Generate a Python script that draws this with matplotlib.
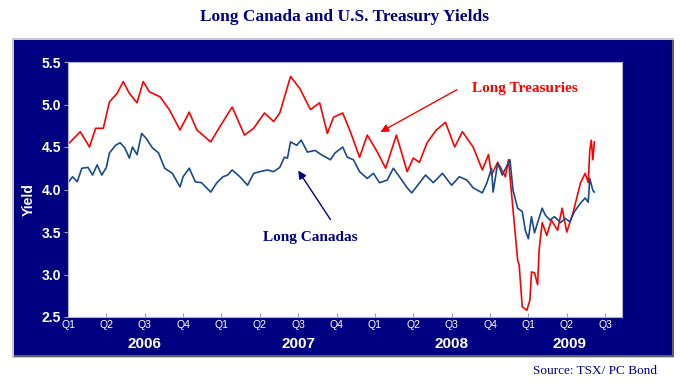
import matplotlib.pyplot as plt
from matplotlib.patches import Rectangle
import numpy as np

# Long Treasuries (fractional year, yield %)
ust_t = [2006.01, 2006.08, 2006.14, 2006.18, 2006.23, 2006.27, 2006.32, 2006.36, 2006.40, 2006.45,
         2006.49, 2006.53, 2006.60, 2006.66, 2006.73, 2006.79, 2006.84, 2006.93, 2006.99, 2007.07,
         2007.15, 2007.21, 2007.28, 2007.34, 2007.38, 2007.45, 2007.51, 2007.58, 2007.64, 2007.69,
         2007.73, 2007.79, 2007.84, 2007.90, 2007.95, 2008.01, 2008.07, 2008.14, 2008.21, 2008.25,
         2008.29, 2008.34, 2008.40, 2008.46, 2008.52, 2008.57, 2008.64, 2008.70, 2008.74, 2008.76,
         2008.80, 2008.85, 2008.87, 2008.90, 2008.93, 2008.94, 2008.96, 2008.99, 2009.01, 2009.02,
         2009.04, 2009.06, 2009.07, 2009.09, 2009.12, 2009.15, 2009.19, 2009.22, 2009.25, 2009.29,
         2009.34, 2009.37, 2009.39, 2009.40, 2009.41, 2009.42, 2009.43]
ust_y = [4.55, 4.68, 4.50, 4.72, 4.72, 5.03, 5.13, 5.27, 5.13, 5.02,
         5.27, 5.15, 5.09, 4.94, 4.70, 4.91, 4.70, 4.56, 4.74, 4.97,
         4.64, 4.72, 4.90, 4.80, 4.90, 5.33, 5.19, 4.94, 5.02, 4.66,
         4.85, 4.90, 4.68, 4.38, 4.64, 4.46, 4.25, 4.64, 4.21, 4.37,
         4.32, 4.55, 4.70, 4.79, 4.50, 4.68, 4.50, 4.23, 4.41, 4.17,
         4.32, 4.15, 4.35, 3.76, 3.17, 3.11, 2.62, 2.58, 2.70, 3.03,
         3.02, 2.88, 3.29, 3.61, 3.46, 3.64, 3.52, 3.78, 3.50, 3.72,
         4.08, 4.19, 4.08, 4.46, 4.58, 4.35, 4.56]

# Long Canadas
can_t = [2006.00, 2006.03, 2006.06, 2006.09, 2006.13, 2006.16, 2006.19, 2006.22, 2006.25, 2006.27,
         2006.31, 2006.34, 2006.37, 2006.40, 2006.42, 2006.45, 2006.48, 2006.51, 2006.55, 2006.59,
         2006.63, 2006.68, 2006.73, 2006.75, 2006.79, 2006.83, 2006.87, 2006.93, 2006.97, 2007.01,
         2007.04, 2007.07, 2007.12, 2007.17, 2007.21, 2007.25, 2007.30, 2007.34, 2007.38, 2007.41,
         2007.43, 2007.45, 2007.49, 2007.52, 2007.56, 2007.61, 2007.65, 2007.71, 2007.74, 2007.79,
         2007.82, 2007.86, 2007.90, 2007.95, 2007.99, 2008.03, 2008.08, 2008.12, 2008.16, 2008.21,
         2008.24, 2008.27, 2008.33, 2008.38, 2008.44, 2008.50, 2008.55, 2008.60, 2008.64, 2008.70,
         2008.73, 2008.76, 2008.77, 2008.80, 2008.83, 2008.88, 2008.90, 2008.93, 2008.96, 2008.98,
         2009.00, 2009.02, 2009.04, 2009.06, 2009.09, 2009.11, 2009.14, 2009.17, 2009.21, 2009.24,
         2009.27, 2009.30, 2009.34, 2009.37, 2009.39, 2009.40, 2009.42, 2009.43]
can_y = [4.08, 4.15, 4.09, 4.25, 4.26, 4.17, 4.29, 4.17, 4.26, 4.43,
         4.52, 4.55, 4.49, 4.37, 4.50, 4.41, 4.66, 4.60, 4.49, 4.43,
         4.25, 4.19, 4.03, 4.15, 4.25, 4.09, 4.08, 3.97, 4.08, 4.15,
         4.17, 4.23, 4.15, 4.05, 4.19, 4.21, 4.23, 4.21, 4.26, 4.38,
         4.37, 4.56, 4.52, 4.58, 4.44, 4.46, 4.41, 4.35, 4.43, 4.50,
         4.38, 4.35, 4.21, 4.13, 4.19, 4.08, 4.11, 4.25, 4.15, 4.02,
         3.96, 4.03, 4.17, 4.08, 4.19, 4.05, 4.15, 4.11, 4.02, 3.96,
         4.08, 4.25, 3.97, 4.31, 4.17, 4.35, 3.99, 3.78, 3.74, 3.52,
         3.42, 3.68, 3.49, 3.61, 3.78, 3.70, 3.64, 3.68, 3.61, 3.66,
         3.62, 3.74, 3.84, 3.90, 3.85, 4.13, 3.99, 3.97]

quarter_labels = ['Q1', 'Q2', 'Q3', 'Q4'] * 3 + ['Q1', 'Q2', 'Q3']
years = ['2006', '2007', '2008', '2009']
year_pos = [2006.5, 2007.5, 2008.5, 2009.27]

navy = '#000080'

fig = plt.figure(figsize=(6.91, 3.84), dpi=100)
fig.patch.set_facecolor('white')

# navy panel behind the chart, with grey frame
fig.patches.append(Rectangle((12/691, 1 - 358/384), 662/691, 320/384, transform=fig.transFigure,
                             facecolor='#c8c8c8', edgecolor='none', zorder=-3))
fig.patches.append(Rectangle((14/691, 1 - 357/384), 660/691, 317/384, transform=fig.transFigure,
                             facecolor='#606060', edgecolor='none', zorder=-2))
fig.patches.append(Rectangle((14/691, 1 - 355/384), 658/691, 315/384, transform=fig.transFigure,
                             facecolor=navy, edgecolor='none', zorder=-1))

ax = fig.add_axes([68/691, 1 - 317/384, 554/691, 255/384])
ax.set_facecolor('white')

ax.plot(ust_t, ust_y, color='#ff0000', linewidth=1.2)
ax.plot(can_t, can_y, color='#1a4a8a', linewidth=1.2)

ax.set_xlim(2006.0, 2009.61)
ax.set_ylim(2.5, 5.5)
ax.set_yticks(np.arange(2.5, 5.51, 0.5))
ax.set_yticklabels([f'{v:.1f}' for v in np.arange(2.5, 5.51, 0.5)])
ax.set_xticks([2006 + 0.25 * i for i in range(15)])
ax.set_xticklabels(quarter_labels)

ax.tick_params(axis='y', direction='out', length=3, color='#a0a0a0', labelcolor='white',
               labelsize=10, pad=2)
ax.tick_params(axis='x', direction='in', length=3, color='#a0a0a0', labelcolor='white',
               labelsize=7.5, pad=2)
for lab in ax.get_yticklabels():
    lab.set_fontweight('bold')
    lab.set_fontfamily('Liberation Sans')
for lab in ax.get_xticklabels():
    lab.set_fontfamily('Liberation Sans')
for s in ax.spines.values():
    s.set_color('#b0b0c8')
    s.set_linewidth(0.8)

ax.set_ylabel('Yield', color='white', fontsize=10, fontweight='bold', family='Liberation Sans')
ax.yaxis.set_label_coords(-0.058, 0.46)

trans = ax.get_xaxis_transform()
for yr, xp in zip(years, year_pos):
    ax.text(xp, -0.105, yr, transform=trans, ha='center', va='center', color='white',
            fontsize=11, fontweight='bold', family='Liberation Sans')

# annotations
ax.annotate('', xy=(2008.02, 4.66), xytext=(2008.55, 5.19),
            arrowprops=dict(arrowstyle='-|>', color='#ff0000', lw=1.0, mutation_scale=12))
ax.text(2008.63, 5.19, 'Long Treasuries', color='#ff0000', fontsize=11, fontweight='bold',
        family='Liberation Serif', ha='left', va='center')
ax.annotate('', xy=(2007.49, 4.25), xytext=(2007.72, 3.62),
            arrowprops=dict(arrowstyle='-|>', color=navy, lw=1.0, mutation_scale=12))
ax.text(2007.58, 3.44, 'Long Canadas', color=navy, fontsize=11, fontweight='bold',
        family='Liberation Serif', ha='center', va='center')

fig.text(345/691, 1 - 17/384, 'Long Canada and U.S. Treasury Yields', color=navy, fontsize=12.5,
         fontweight='bold', family='Liberation Serif', ha='center', va='center')
fig.text(657/691, 1 - 371/384, 'Source: TSX/ PC Bond', color=navy, fontsize=9.5,
         family='Liberation Serif', ha='right', va='center')

fig.savefig('out.png', dpi=100)
